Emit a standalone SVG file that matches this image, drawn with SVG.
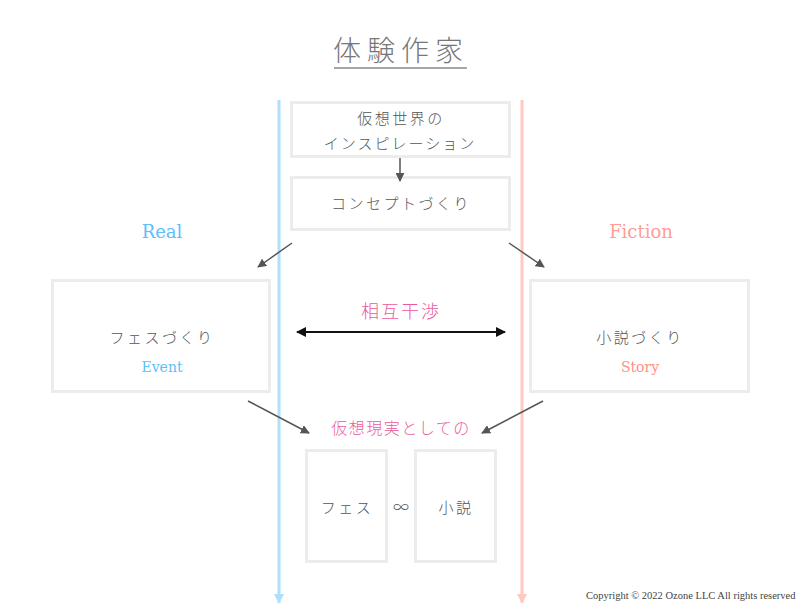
<svg xmlns="http://www.w3.org/2000/svg" width="800" height="603" viewBox="0 0 800 603">
<defs>
<style>
.jp{font-family:"Noto Sans CJK JP","Noto Sans",sans-serif;font-weight:300;text-anchor:middle}
.box{fill:#fff;stroke:#ececec;stroke-width:3}
.dark{fill:#555}
.pink{fill:#ec5a9f}
.en{font-family:"DejaVu Serif","Liberation Serif",serif;font-weight:300;text-anchor:middle}
.conn{stroke:#555;stroke-width:1.5;fill:none}
</style>
<marker id="ah" viewBox="0 0 10 10" refX="9" refY="5" markerWidth="9" markerHeight="9" markerUnits="userSpaceOnUse" orient="auto"><path d="M0,0 L10,5 L0,10 z" fill="#555"/></marker>
<marker id="ahk" viewBox="0 0 10 10" refX="9" refY="5" markerWidth="10" markerHeight="10" markerUnits="userSpaceOnUse" orient="auto-start-reverse"><path d="M0,0 L10,5 L0,10 z" fill="#111"/></marker>
<marker id="ahb" viewBox="0 0 10 10" refX="9" refY="5" markerWidth="10" markerHeight="10" markerUnits="userSpaceOnUse" orient="auto"><path d="M0,0 L10,5 L0,10 z" fill="#aee0fb"/></marker>
<marker id="ahr" viewBox="0 0 10 10" refX="9" refY="5" markerWidth="10" markerHeight="10" markerUnits="userSpaceOnUse" orient="auto"><path d="M0,0 L10,5 L0,10 z" fill="#ffc9c2"/></marker>
</defs>
<rect width="800" height="603" fill="#fff"/>
<g id="title">
<text class="jp" x="401" y="61" font-size="28" fill="#777" letter-spacing="6">体験作家</text>
<line x1="334" y1="68" x2="467" y2="68" stroke="#888" stroke-width="1.5"/>
</g>
<g id="lanes">
<line x1="279" y1="100" x2="279" y2="603" stroke="#aee0fb" stroke-width="3" marker-end="url(#ahb)"/>
<line x1="522" y1="100" x2="522" y2="603" stroke="#ffc9c2" stroke-width="3" marker-end="url(#ahr)"/>
<text class="en" x="162" y="238" font-size="18" fill="#5bc0fb">Real</text>
<text class="en" x="641" y="238" font-size="18" fill="#ff9d94">Fiction</text>
</g>
<g id="inspiration">
<rect class="box" x="291.5" y="102.5" width="218" height="54"/>
<text class="jp dark" x="401" y="124" font-size="15" letter-spacing="2.5">仮想世界の</text>
<text class="jp dark" x="400" y="149" font-size="15" letter-spacing="2">インスピレーション</text>
</g>
<g id="concept">
<rect class="box" x="291.5" y="177.5" width="218" height="52"/>
<text class="jp dark" x="401" y="209" font-size="15" letter-spacing="2.5">コンセプトづくり</text>
</g>
<g id="fes">
<rect class="box" x="52.5" y="280.5" width="217" height="111"/>
<text class="jp dark" x="162" y="343" font-size="15" letter-spacing="2.5">フェスづくり</text>
<text class="en" x="162" y="372" font-size="14" fill="#5bc0fb">Event</text>
</g>
<g id="novel">
<rect class="box" x="530.5" y="280.5" width="218" height="111"/>
<text class="jp dark" x="640" y="343" font-size="15" letter-spacing="2.5">小説づくり</text>
<text class="en" x="640" y="372" font-size="14" fill="#ff8f86">Story</text>
</g>
<g id="interference">
<text class="jp pink" x="401" y="318" font-size="18" letter-spacing="2">相互干渉</text>
</g>
<g id="virtual-label">
<text class="jp pink" x="401" y="434" font-size="16" letter-spacing="1.5">仮想現実としての</text>
</g>
<g id="fes-small">
<rect class="box" x="306.5" y="450.5" width="80" height="111"/>
<text class="jp dark" x="347" y="513" font-size="15" letter-spacing="2.5">フェス</text>
</g>
<g id="infinity">
<text class="jp dark" x="401" y="513" font-size="16">∞</text>
</g>
<g id="novel-small">
<rect class="box" x="415.5" y="450.5" width="80" height="111"/>
<text class="jp dark" x="456" y="513" font-size="15" letter-spacing="2.5">小説</text>
</g>
<g id="connectors">
<line class="conn" x1="400" y1="158" x2="400" y2="181" marker-end="url(#ah)"/>
<line class="conn" x1="292" y1="243" x2="258" y2="267" marker-end="url(#ah)"/>
<line class="conn" x1="509" y1="243" x2="544" y2="267" marker-end="url(#ah)"/>
<line x1="297" y1="332" x2="505" y2="332" stroke="#111" stroke-width="2" marker-start="url(#ahk)" marker-end="url(#ahk)"/>
<line class="conn" x1="248" y1="401" x2="309" y2="433" marker-end="url(#ah)"/>
<line class="conn" x1="543" y1="401" x2="482" y2="433" marker-end="url(#ah)"/>
</g>
<g id="copyright">
<text x="586" y="599" font-family="Liberation Serif, serif" font-size="10.5" fill="#444">Copyright © 2022 Ozone LLC All rights reserved</text>
</g>
</svg>
